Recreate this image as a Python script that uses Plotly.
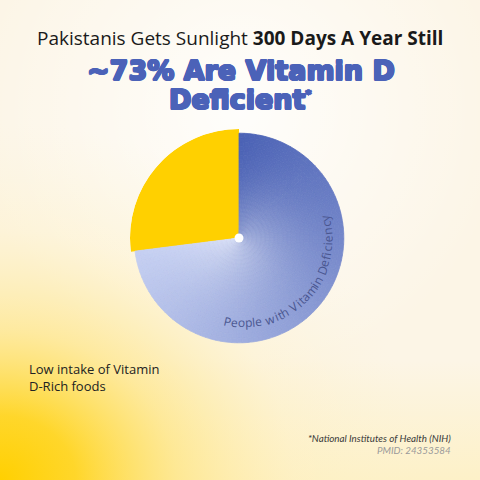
import base64
import math
import plotly.graph_objects as go

# ---------------------------------------------------------------- data
labels = ["People with Vitamin Deficiency", "Low intake of Vitamin D-Rich foods"]
values = [73, 27]
slice_colors = ["#4B62B5", "#FFD000"]
title_line = "Pakistanis Gets Sunlight <b>300 Days A Year Still</b>"
headline = ["~73% Are Vitamin D", "Deficient"]
side_label = "Low intake of Vitamin<br>D-Rich foods"
source_note = ["*National Institutes of Health (NIH)", "PMID: 24353584"]

W = H = 480
cx, cy = 239, 238          # pie centre in pixels
R_PX = 109                 # outer radius (yellow slice) in pixels
HEAD_BLUE = "#4B62B8"


def px(x, y):
    return x / W, 1 - y / H


def hex2rgb(h):
    h = h.lstrip("#")
    return [int(h[i:i + 2], 16) for i in (0, 2, 4)]


def mix(c1, c2, t):
    a, b = hex2rgb(c1), hex2rgb(c2)
    return [a[i] + (b[i] - a[i]) * t for i in range(3)]


# ---------------------------------------------------------------- background (svg gradients)
svg = """<svg xmlns='http://www.w3.org/2000/svg' width='480' height='480'>
<defs>
<radialGradient id='y' cx='0' cy='480' r='420' gradientUnits='userSpaceOnUse'
  gradientTransform='translate(0 480) scale(1 0.85) translate(0 -480)'>
<stop offset='0' stop-color='#FFD000' stop-opacity='1'/>
<stop offset='0.18' stop-color='#FFD41C' stop-opacity='0.92'/>
<stop offset='0.42' stop-color='#FFE270' stop-opacity='0.6'/>
<stop offset='0.7' stop-color='#FFEFB8' stop-opacity='0.3'/>
<stop offset='1' stop-color='#FFF3D0' stop-opacity='0'/>
</radialGradient>
<linearGradient id='b' x1='0' y1='480' x2='0' y2='360' gradientUnits='userSpaceOnUse'>
<stop offset='0' stop-color='#FFE98F' stop-opacity='0.35'/>
<stop offset='1' stop-color='#FFE98F' stop-opacity='0'/>
</linearGradient>
<radialGradient id='w' cx='240' cy='110' r='270' gradientUnits='userSpaceOnUse'>
<stop offset='0' stop-color='#FFFFFF' stop-opacity='0.85'/>
<stop offset='1' stop-color='#FFFFFF' stop-opacity='0'/>
</radialGradient>
</defs>
<rect width='480' height='480' fill='#FCF5E6'/>
<rect width='480' height='480' fill='url(#w)'/>
<rect width='480' height='480' fill='url(#b)'/>
<rect width='480' height='480' fill='url(#y)'/>
</svg>"""
bg_src = "data:image/svg+xml;base64," + base64.b64encode(svg.encode()).decode()

# ---------------------------------------------------------------- pie as barpolar
deg = 360 / sum(values)
yellow_span = values[1] * deg
blue_span = values[0] * deg

fig = go.Figure()

fig.add_trace(go.Barpolar(
    r=[1.04], theta=[yellow_span / 2], width=[yellow_span],
    marker=dict(color=slice_colors[1], line=dict(width=0)),
    name=labels[1], hoverinfo="skip"))

# blue slice with angular + radial gradient
n_ang, n_rad = 90, 24
step_a = blue_span / n_ang
step_r = 1.0 / n_rad
th, rr, bb, ww, cols = [], [], [], [], []
for i in range(n_ang):
    t = (i + 0.5) / n_ang
    rgb = mix("#C6D0F2", slice_colors[0], t)
    for j in range(n_rad):
        rmid = (j + 0.5) * step_r
        w = 0.4 * (1 - rmid) ** 2
        c = "rgb({},{},{})".format(*[round(v + (255 - v) * w) for v in rgb])
        th.append(yellow_span + (i + 0.5) * step_a)
        ww.append(step_a)
        rr.append(step_r)
        bb.append(j * step_r)
        cols.append(c)

fig.add_trace(go.Barpolar(
    r=rr, base=bb, theta=th, width=ww,
    marker=dict(color=cols, line=dict(color=cols, width=0.8)),
    name=labels[0], hoverinfo="skip"))

fig.add_trace(go.Scatterpolar(
    r=[0], theta=[0], mode="markers",
    marker=dict(size=9, color="white"), hoverinfo="skip"))

# ---------------------------------------------------------------- annotations
thick = ", ".join("{}px {}px 0 {}".format(dx, dy, HEAD_BLUE)
                  for dx, dy in [(1, 0), (-1, 0), (0, 1), (0, -1), (0.7, 0.7), (-0.7, 0.7),
                                 (0.7, -0.7), (-0.7, -0.7)])
head_font = dict(family="DejaVu Sans", size=27, color=HEAD_BLUE, weight="bold", shadow=thick)

ann = []
x, y = px(240, 38)
ann.append(dict(x=x, y=y, text=title_line, showarrow=False, xanchor="center", yanchor="middle",
                font=dict(family="Open Sans", size=19, color="#1A1A1A")))
x, y = px(241, 70)
ann.append(dict(x=x, y=y, text=headline[0], showarrow=False, xanchor="center", yanchor="middle",
                font=head_font))
x, y = px(240, 99)
ann.append(dict(x=x, y=y, text=headline[1] + "<sup><span style='font-size:11px'>*</span></sup>",
                showarrow=False, xanchor="center", yanchor="middle", font=head_font))

x, y = px(27, 377)
ann.append(dict(x=x, y=y, text=side_label, showarrow=False, xanchor="left", yanchor="middle",
                align="left", font=dict(family="Open Sans", size=13, color="#222222")))

x, y = px(453, 438)
ann.append(dict(x=x, y=y, text=source_note[0], showarrow=False, xanchor="right", yanchor="middle",
                font=dict(family="Lato", size=9.8, color="#3A3A3A", style="italic")))
x, y = px(453, 450)
ann.append(dict(x=x, y=y, text=source_note[1], showarrow=False, xanchor="right", yanchor="middle",
                font=dict(family="Lato", size=9.8, color="#9A9A9A", style="italic")))

# curved slice label, one character at a time
tx, ty, tr = 245, 240, 83
phi0, phi1 = 105, -18
def cw(ch):
    if ch in "ilj ":
        return 0.27
    if ch in "tf":
        return 0.33
    if ch in "mw":
        return 0.8
    if ch in "VD":
        return 0.66
    if ch.isupper():
        return 0.58
    if ch == "r":
        return 0.38
    return 0.55
text = labels[0]
widths = [cw(c) for c in text]
total = sum(widths)
acc = 0
for ch, wdt in zip(text, widths):
    f = (acc + wdt / 2) / total
    acc += wdt
    if ch == " ":
        continue
    phi = phi0 + (phi1 - phi0) * f
    a = math.radians(phi)
    x, y = px(tx + tr * math.cos(a), ty + tr * math.sin(a))
    ann.append(dict(x=x, y=y, text=ch, showarrow=False, xanchor="center", yanchor="middle",
                    textangle=phi - 90,
                    font=dict(family="Open Sans", size=12, color="#4A5690")))

fig.update_layout(
    width=W, height=H,
    margin=dict(l=0, r=0, t=0, b=0),
    paper_bgcolor="#FCF5E6",
    plot_bgcolor="rgba(0,0,0,0)",
    showlegend=False,
    polar=dict(
        domain=dict(x=[(cx - R_PX) / W, (cx + R_PX) / W],
                    y=[1 - (cy + R_PX) / H, 1 - (cy - R_PX) / H]),
        bgcolor="rgba(0,0,0,0)",
        bargap=0,
        angularaxis=dict(visible=False, rotation=90, direction="counterclockwise"),
        radialaxis=dict(visible=False, range=[0, 1.04]),
    ),
    images=[dict(source=bg_src, xref="paper", yref="paper", x=0, y=1, sizex=1, sizey=1,
                 sizing="stretch", layer="below")],
    annotations=ann,
)

fig.write_html("out.html", config={"displayModeBar": False},
               post_script="document.body.style.margin='0';")
